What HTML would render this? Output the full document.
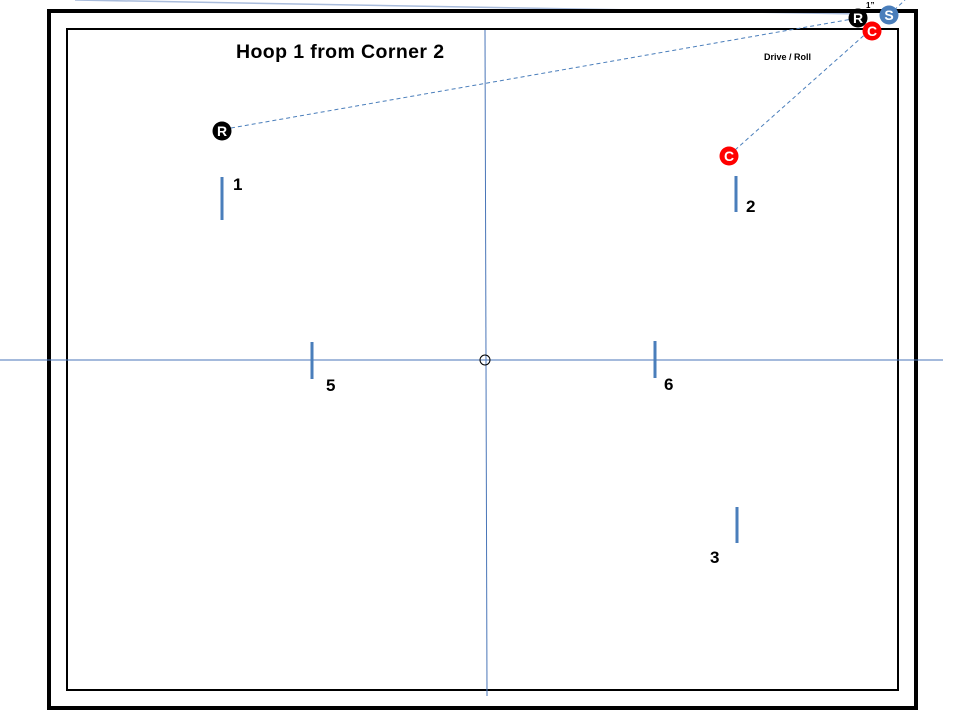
<!DOCTYPE html>
<html><head><meta charset="utf-8"><style>
html,body{margin:0;padding:0;background:#fff;width:960px;height:720px;overflow:hidden}
text{font-family:"Liberation Sans",sans-serif}
</style></head><body>
<svg width="960" height="720" viewBox="0 0 960 720" xmlns="http://www.w3.org/2000/svg">
<line x1="75" y1="0" x2="860" y2="14" stroke="#a9bcdc" stroke-width="1.5"/>
<rect x="49" y="11" width="867" height="697" fill="none" stroke="#000" stroke-width="4"/>
<rect x="67" y="29" width="831" height="661" fill="none" stroke="#000" stroke-width="2"/>
<line x1="485" y1="30" x2="487" y2="696" stroke="#4a76b8" stroke-width="1"/>
<line x1="0" y1="360" x2="943" y2="360" stroke="#4a76b8" stroke-width="1"/>
<circle cx="485" cy="360" r="5" fill="none" stroke="#000" stroke-width="1"/>
<g stroke="#4a7ebb" stroke-width="1" stroke-dasharray="4,3">
<line x1="231" y1="128" x2="858" y2="18"/>
<line x1="735" y1="150" x2="870" y2="30"/>
<line x1="889" y1="15" x2="905" y2="0"/>
</g>
<g stroke="#4a7ebb" stroke-width="3">
<line x1="222" y1="177" x2="222" y2="220"/>
<line x1="736" y1="176" x2="736" y2="212"/>
<line x1="312" y1="342" x2="312" y2="379"/>
<line x1="655" y1="341" x2="655" y2="378"/>
<line x1="737" y1="507" x2="737" y2="543"/>
</g>
<g font-weight="bold" font-size="17" fill="#000">
<text x="233" y="190">1</text>
<text x="746" y="212">2</text>
<text x="326" y="391">5</text>
<text x="664" y="390">6</text>
<text x="710" y="563">3</text>
</g>
<text x="236" y="58" font-weight="bold" font-size="19.5" letter-spacing="0.4">Hoop 1 from Corner 2</text>
<text x="764" y="60" font-weight="bold" font-size="9">Drive / Roll</text>
<text x="866" y="8" font-weight="bold" font-size="8">1”</text>
<g font-weight="bold" font-size="14" text-anchor="middle">
<circle cx="222" cy="131" r="9.5" fill="#000"/><text x="222" y="136" fill="#fff">R</text>
<circle cx="729" cy="156" r="9.5" fill="#f00"/><text x="729" y="161" fill="#fff">C</text>
<circle cx="858" cy="18" r="9.5" fill="#000"/><text x="858" y="23" fill="#fff">R</text>
<circle cx="889" cy="15" r="9.5" fill="#4a7ebb"/><text x="889" y="20" fill="#fff">S</text>
<circle cx="872" cy="31" r="9.5" fill="#f00"/><text x="872" y="36" fill="#fff">C</text>
</g>
</svg>
</body></html>
